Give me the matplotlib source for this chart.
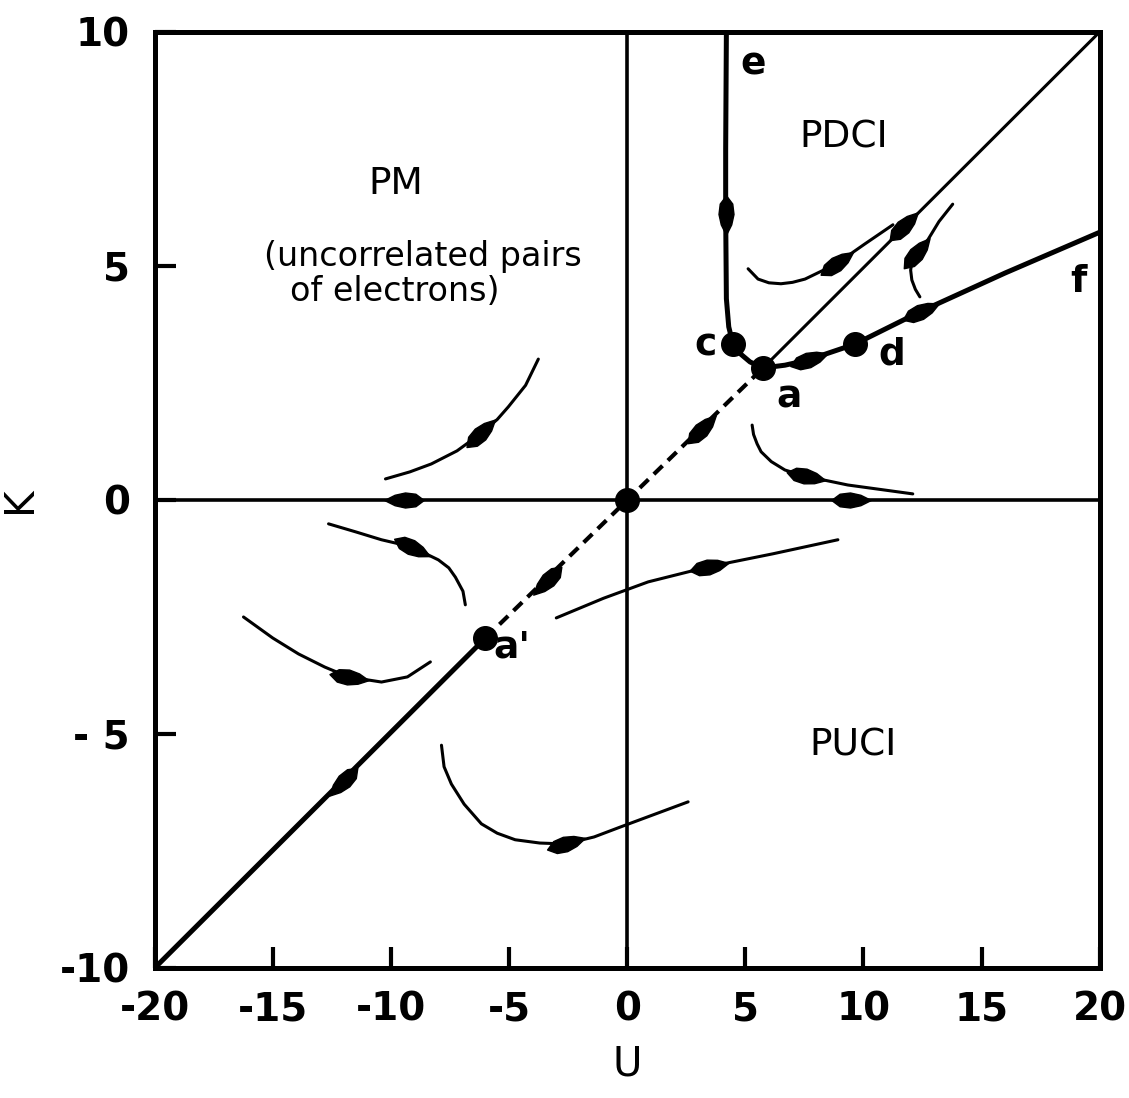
import numpy as np
import matplotlib

matplotlib.use("Agg")
import matplotlib.pyplot as plt
from matplotlib.markers import MarkerStyle
from matplotlib.path import Path
from matplotlib.transforms import Affine2D

plt.rcParams["font.family"] = "DejaVu Sans"

# ---- values (U, K) ----
x_ticks = [-20, -15, -10, -5, 0, 5, 10, 15, 20]
x_tick_labels = ["-20", "-15", "-10", "-5", "0", "5", "10", "15", "20"]
y_ticks = [-10, -5, 0, 5, 10]
y_tick_labels = ["-10", "- 5", "0", "5", "10"]

# fixed points
fix_u = [0.0, 5.75, 4.48, 9.64, -6.0]
fix_k = [0.0, 2.82, 3.33, 3.33, -2.95]

# diagonal separatrix pieces
diag_low_u = [-20.0, -6.0]
diag_low_k = [-10.0, -2.95]
diag_dash_u = [-6.0, 5.75]
diag_dash_k = [-2.95, 2.82]
diag_up_u = [5.75, 20.0]
diag_up_k = [2.82, 10.0]

# e -> c -> a
eca_u = [4.2, 4.17, 4.17, 4.2, 4.3, 4.48, 4.8, 5.2, 5.75]
eca_k = [10.0, 7.5, 6.1, 4.3, 3.7, 3.33, 3.12, 2.95, 2.82]

# a -> d -> f
adf_u = [5.75, 6.68, 7.65, 9.64, 12.39, 16.0, 20.0]
adf_k = [2.82, 2.88, 2.99, 3.33, 4.02, 4.85, 5.72]

# thin flow curves
flow_a_u = [-10.23, -9.2, -8.29, -7.2, -6.22, -5.5, -5.03, -4.3, -3.76]
flow_a_k = [0.45, 0.6, 0.77, 1.05, 1.41, 1.72, 1.99, 2.45, 3.01]
flow_b_u = [-12.64, -11.5, -10.4, -9.13, -7.99, -7.55, -7.27, -6.95, -6.85]
flow_b_k = [-0.51, -0.68, -0.85, -1.0, -1.28, -1.45, -1.65, -1.95, -2.24]
flow_c_u = [-16.24, -15.0, -13.91, -12.8, -11.8, -10.4, -9.3, -8.33]
flow_c_k = [-2.5, -2.95, -3.29, -3.57, -3.78, -3.89, -3.78, -3.46]
flow_d_u = [-3.0, -1.0, 0.89, 3.42, 6.17, 8.92]
flow_d_k = [-2.52, -2.1, -1.75, -1.43, -1.15, -0.85]
flow_e_u = [-7.86, -7.75, -7.44, -6.9, -6.17, -5.5, -4.74, -3.7, -2.62, -1.4, -0.3, 2.58]
flow_e_k = [-5.24, -5.7, -6.07, -6.5, -6.92, -7.12, -7.26, -7.33, -7.35, -7.2, -6.99, -6.45]
flow_f_u = [5.29, 5.35, 5.5, 5.67, 6.1, 6.68, 7.53, 9.34, 12.09]
flow_f_k = [1.6, 1.4, 1.2, 1.03, 0.82, 0.64, 0.51, 0.32, 0.13]
flow_g_u = [5.12, 5.54, 6.0, 6.51, 7.0, 7.53, 8.84, 10.06, 11.25]
flow_g_k = [4.94, 4.72, 4.64, 4.62, 4.65, 4.72, 5.04, 5.47, 5.88]
flow_h_u = [13.78, 13.2, 12.73, 12.22, 12.05, 12.0, 12.05, 12.2, 12.39]
flow_h_k = [6.32, 5.95, 5.56, 5.26, 5.08, 4.91, 4.7, 4.5, 4.34]

# flow arrows: position and a second point giving the direction
arrow_u = [4.17, -12.0, -3.34, 3.13, 11.67, 7.65, 12.39, -9.39, 9.43,
           -6.22, -9.13, -11.8, 3.42, -2.62, 7.53, 8.84, 12.22]
arrow_k = [6.1, -6.0, -1.71, 1.5, 5.84, 2.99, 4.02, 0.0, 0.0,
           1.41, -1.0, -3.78, -1.43, -7.35, 0.51, 5.04, 5.26]
arrow_to_u = [4.17, -13.0, -4.34, 4.13, 12.67, 9.64, 16.0, -10.39, 10.43,
              -5.03, -7.99, -10.4, 6.17, -0.3, 9.34, 10.06, 12.73]
arrow_to_k = [5.0, -6.5, -2.21, 2.0, 6.34, 3.33, 4.85, 0.0, 0.0,
              1.99, -1.28, -3.89, -1.15, -6.99, 0.32, 5.47, 5.56]

point_labels = ["e", "c", "a", "d", "f", "a'"]
point_label_u = [5.35, 3.3, 6.85, 11.2, 19.1, -4.9]
point_label_k = [9.3, 3.3, 2.2, 3.1, 4.65, -3.15]

fig = plt.figure(figsize=(11.29, 10.98), dpi=100)
ax = fig.add_axes([0.137, 0.1184, 0.837, 0.8525])
ax.set_xlim(-20, 20)
ax.set_ylim(-10, 10)

for s in ax.spines.values():
  s.set_linewidth(3.6)
  s.set_color("black")

ax.set_xticks(x_ticks)
ax.set_xticklabels(x_tick_labels, fontweight="bold")
ax.set_yticks(y_ticks)
ax.set_yticklabels(y_tick_labels, fontweight="bold")
ax.tick_params(axis="both", direction="in", length=15, width=3, labelsize=28)
ax.tick_params(axis="x", pad=16)
ax.tick_params(axis="y", pad=18)
ax.set_xlabel("U", fontsize=29, labelpad=12)
ax.set_ylabel("K", fontsize=29, labelpad=14)

# region boundaries
ax.axhline(0, color="black", lw=2.6, zorder=2)
ax.axvline(0, color="black", lw=2.6, zorder=2)

ax.plot(diag_low_u, diag_low_k, color="black", lw=3.6, solid_capstyle="butt")
ax.plot(diag_dash_u, diag_dash_k, color="black", lw=3.0, dashes=(2.9, 1.8))
ax.plot(diag_up_u, diag_up_k, color="black", lw=2.2)
ax.plot(eca_u, eca_k, color="black", lw=3.6, solid_joinstyle="round")
ax.plot(adf_u, adf_k, color="black", lw=3.6, solid_joinstyle="round")

for fu, fk in [(flow_a_u, flow_a_k), (flow_b_u, flow_b_k), (flow_c_u, flow_c_k),
               (flow_d_u, flow_d_k), (flow_e_u, flow_e_k), (flow_f_u, flow_f_k),
               (flow_g_u, flow_g_k), (flow_h_u, flow_h_k)]:
  ax.plot(fu, fk, color="black", lw=2.2, solid_capstyle="round",
          solid_joinstyle="round")

# slim teardrop-shaped flow marks
drop = Path([(1.0, 0.0), (0.5, 0.25), (0.0, 0.36), (-0.5, 0.3), (-0.9, 0.0),
             (-0.5, -0.3), (0.0, -0.36), (0.5, -0.25), (1.0, 0.0)],
            [Path.MOVETO] + [Path.LINETO] * 7 + [Path.CLOSEPOLY])
for u0, k0, u1, k1 in zip(arrow_u, arrow_k, arrow_to_u, arrow_to_k):
  p0 = ax.transData.transform((u0, k0))
  p1 = ax.transData.transform((u1, k1))
  ang = np.degrees(np.arctan2(p1[1] - p0[1], p1[0] - p0[0]))
  m = MarkerStyle(drop, transform=Affine2D().rotate_deg(ang))
  ax.plot([u0], [k0], marker=m, ms=30, color="black", mec="black", zorder=4)

ax.plot(fix_u, fix_k, "o", ms=17, color="black", zorder=5)

for lab, lu, lk in zip(point_labels, point_label_u, point_label_k):
  ax.text(lu, lk, lab, fontsize=27, ha="center", va="center", fontweight="bold")

ax.text(-9.8, 6.75, "PM", fontsize=27, ha="center", va="center")
ax.text(-8.65, 5.2, "(uncorrelated pairs", fontsize=24, ha="center", va="center")
ax.text(-9.85, 4.45, "of electrons)", fontsize=24, ha="center", va="center")
ax.text(9.15, 7.75, "PDCI", fontsize=27, ha="center", va="center")
ax.text(9.55, -5.25, "PUCI", fontsize=27, ha="center", va="center")

fig.savefig("out.png", dpi=100, facecolor="white")
